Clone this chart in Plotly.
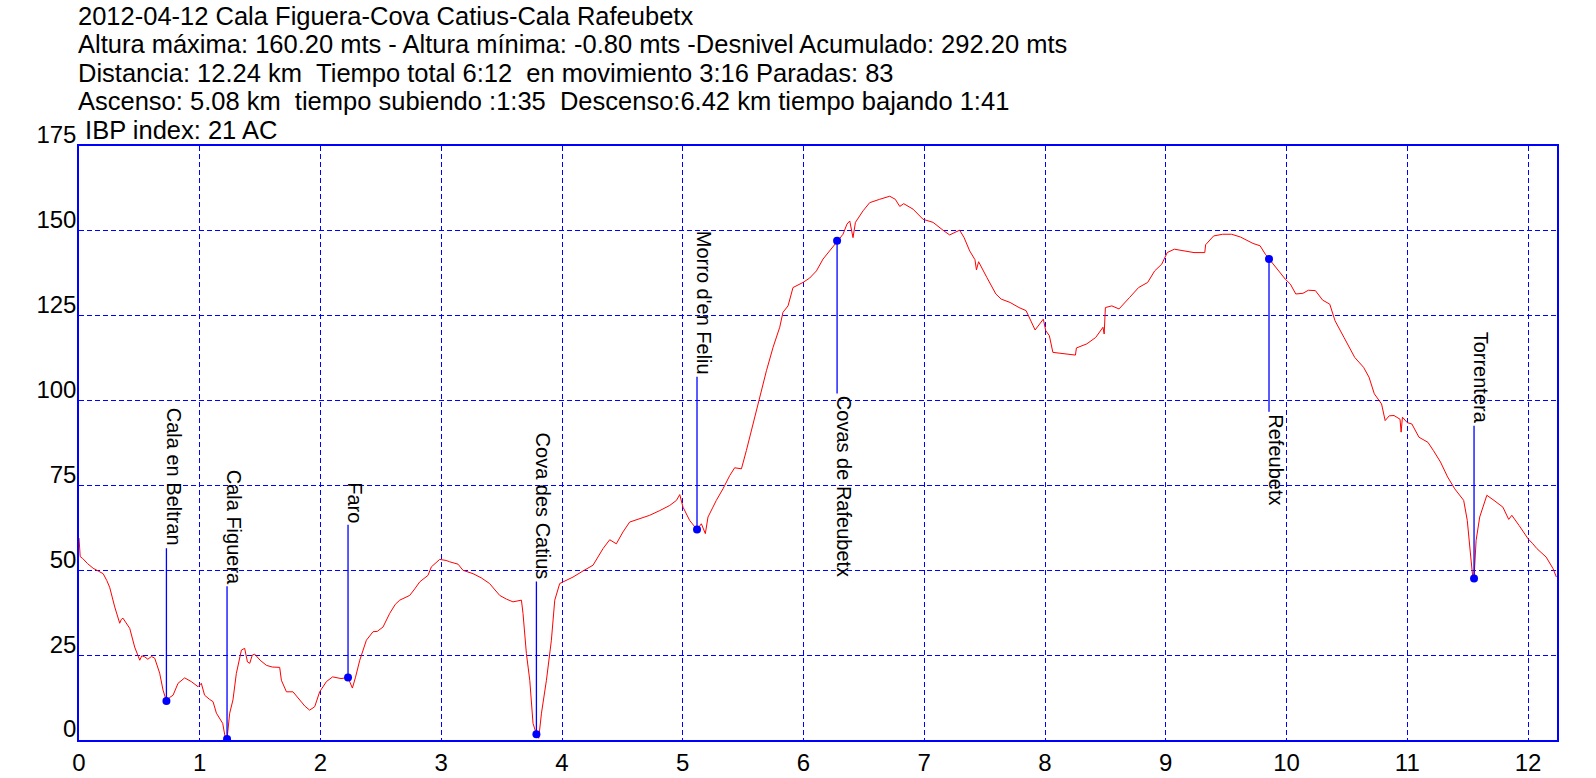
import plotly.graph_objects as go

# ---------------- data ----------------
title_lines = [
    "2012-04-12 Cala Figuera-Cova Catius-Cala Rafeubetx",
    "Altura máxima: 160.20 mts - Altura mínima: -0.80 mts -Desnivel Acumulado: 292.20 mts",
    "Distancia: 12.24 km  Tiempo total 6:12  en movimiento 3:16 Paradas: 83",
    "Ascenso: 5.08 km  tiempo subiendo :1:35  Descenso:6.42 km tiempo bajando 1:41",
    " IBP index: 21 AC",
]

dist_km = [
    0.00, 0.01, 0.03, 0.07, 0.117, 0.16, 0.20, 0.23, 0.254, 0.296, 0.337, 0.35, 0.364, 0.39, 0.42,
    0.461, 0.49, 0.503, 0.52, 0.544, 0.57, 0.60, 0.627, 0.668, 0.696, 0.724, 0.75, 0.779, 0.82,
    0.875, 0.93, 0.986, 1.013, 1.04, 1.08, 1.11, 1.138, 1.19, 1.207, 1.215, 1.226, 1.248, 1.275,
    1.303, 1.345, 1.372, 1.395, 1.414, 1.435, 1.455, 1.50, 1.552, 1.60, 1.662, 1.676, 1.718,
    1.772, 1.828, 1.87, 1.91, 1.952, 1.993, 2.049, 2.10, 2.17, 2.228, 2.264, 2.29, 2.325, 2.38,
    2.435, 2.47, 2.518, 2.573, 2.62, 2.656, 2.70, 2.739, 2.78, 2.822, 2.89, 2.918, 2.987, 3.04,
    3.07, 3.139, 3.18, 3.263, 3.33, 3.40, 3.484, 3.54, 3.594, 3.64, 3.664, 3.677, 3.705, 3.733,
    3.76, 3.788, 3.807, 3.83, 3.871, 3.912, 3.94, 3.981, 4.036, 4.091, 4.174, 4.257, 4.34, 4.395,
    4.45, 4.505, 4.56, 4.644, 4.726, 4.81, 4.892, 4.948, 4.975, 5.002, 5.057, 5.118, 5.154,
    5.187, 5.209, 5.25, 5.278, 5.333, 5.389, 5.43, 5.486, 5.527, 5.582, 5.637, 5.693, 5.748,
    5.803, 5.83, 5.872, 5.913, 5.996, 6.051, 6.107, 6.162, 6.217, 6.278, 6.327, 6.36, 6.383,
    6.41, 6.43, 6.493, 6.548, 6.631, 6.714, 6.76, 6.797, 6.83, 6.907, 6.99, 7.073, 7.155, 7.21,
    7.293, 7.33, 7.376, 7.42, 7.432, 7.45, 7.518, 7.593, 7.637, 7.711, 7.785, 7.843, 7.918,
    7.986, 8.006, 8.036, 8.065, 8.169, 8.252, 8.26, 8.346, 8.42, 8.48, 8.49, 8.50, 8.553, 8.613,
    8.701, 8.775, 8.85, 8.908, 8.967, 9.012, 9.071, 9.16, 9.234, 9.323, 9.33, 9.396, 9.471,
    9.545, 9.618, 9.722, 9.781, 9.825, 9.855, 9.914, 9.989, 10.032, 10.077, 10.136, 10.181,
    10.239, 10.299, 10.358, 10.402, 10.476, 10.565, 10.638, 10.683, 10.727, 10.787, 10.817,
    10.85, 10.89, 10.94, 10.949, 10.96, 11.0, 11.038, 11.097, 11.171, 11.216, 11.275, 11.334,
    11.393, 11.467, 11.497, 11.526, 11.545, 11.553, 11.57, 11.60, 11.659, 11.718, 11.792, 11.84,
    11.866, 11.926, 12.0, 12.04, 12.073, 12.15, 12.207, 12.235,
]
altitude_m = [
    59.5, 54.0, 53.5, 52.0, 50.6, 49.8, 49.0, 47.0, 45.0, 39.2, 34.4, 35.5, 35.9, 34.5, 32.9,
    27.4, 24.5, 23.5, 24.8, 24.5, 23.8, 24.6, 24.1, 19.7, 14.7, 11.5, 12.5, 13.2, 16.7,
    18.3, 17.2, 15.7, 16.7, 13.2, 12.0, 11.3, 7.9, 4.9, 1.5, -0.8, 0.3, 7.9, 11.8,
    19.6, 26.5, 27.0, 23.0, 22.6, 25.0, 25.3, 23.5, 22.0, 21.5, 21.4, 17.6, 14.2,
    14.2, 11.8, 10.0, 8.8, 9.8, 14.2, 17.2, 18.6, 18.1, 18.4, 15.3, 18.5, 23.5, 29.4,
    31.9, 32.0, 33.3, 37.3, 40.0, 41.2, 42.0, 42.6, 44.5, 46.6, 48.5, 51.0, 53.2, 52.9,
    52.5, 51.8, 50.0, 49.0, 47.8, 46.1, 42.6, 41.5, 40.7, 41.0, 41.2, 37.3, 25.5, 17.6,
    4.9, 1.7, 0.5, 7.9, 17.6, 29.4, 41.2, 46.1, 47.0, 48.0, 49.8, 51.5, 56.4, 59.0,
    57.8, 61.3, 64.2, 65.2, 66.2, 67.6, 69.1, 70.6, 72.3, 68.6, 64.7, 62.0, 63.7,
    60.8, 65.7, 68.6, 70.6, 74.0, 77.9, 80.2, 79.9, 85.3, 93.1, 101.0, 108.8, 115.7,
    121.6, 126.0, 127.9, 133.3, 134.8, 136.1, 138.2, 141.7, 144.1, 147.1, 149.0, 152.0, 152.9,
    148.0, 152.5, 155.9, 158.3, 159.3, 160.2, 159.3, 157.2, 158.0, 156.4, 153.4, 152.5, 150.2, 148.8,
    150.2, 148.0, 144.1, 141.5, 138.5, 140.9, 136.3, 131.4, 129.9, 128.9, 127.4, 126.5, 120.8,
    124.0, 120.6, 119.1, 114.2, 113.7, 113.4, 115.5, 116.7, 118.6, 121.6, 119.6, 127.4, 127.9, 127.0,
    130.4, 133.3, 134.8, 138.2, 140.2, 143.6, 144.6, 144.1, 143.6, 143.6, 145.9, 148.5, 149.0,
    149.0, 148.2, 146.3, 145.6, 143.1, 141.7, 139.2, 135.8, 134.3, 131.4, 131.6, 132.5,
    132.4, 129.6, 128.4, 123.5, 118.6, 112.7, 109.8, 106.9, 102.0, 99.0, 94.1,
    95.5, 95.6, 94.5, 90.7, 95.1, 93.5, 93.1, 89.2, 87.7, 85.3, 81.9, 77.5,
    74.0, 70.6, 64.7, 53.9, 47.0, 47.6, 58.8, 65.7, 72.1, 70.6, 68.6, 65.0,
    66.2, 63.2, 59.3, 57.8, 56.4, 53.9, 50.5, 48.0,
]

wp_names = ["Cala en Beltran", "Cala Figuera", "Faro", "Cova des Catius",
            "Morro d'en Feliu", "Covas de Rafeubetx", "Refeubetx", "Torrentera"]
wp_km = [0.724, 1.226, 2.228, 3.788, 5.118, 6.278, 9.855, 11.553]
wp_alt = [11.5, 0.3, 18.4, 1.7, 62.0, 147.1, 141.7, 47.6]

x_ticks = list(range(0, 13))
y_ticks = [0, 25, 50, 75, 100, 125, 150, 175]

# ---------------- layout constants ----------------
W, H = 1596, 778
ML, MR, MT, MB = 79, 39, 146, 38
STEM = 45  # stem length in axis units
FONT = "Liberation Sans, Arial, sans-serif"
BLUE = "#0000FF"

fig = go.Figure()

fig.add_trace(go.Scatter(x=dist_km, y=altitude_m, mode="lines",
                         line=dict(color="#FF0000", width=1), hoverinfo="skip"))

# stems
sx, sy = [], []
ends = []
for k, a in zip(wp_km, wp_alt):
    d = -1 if a > 125 else 1
    e = a + d * STEM
    ends.append((e, d))
    sx += [k, k, None]
    sy += [a, e, None]
fig.add_trace(go.Scatter(x=sx, y=sy, mode="lines", line=dict(color=BLUE, width=1.3),
                         hoverinfo="skip"))
fig.add_trace(go.Scatter(x=wp_km, y=wp_alt, mode="markers",
                         marker=dict(color=BLUE, size=8), hoverinfo="skip"))

for name, k, (e, d) in zip(wp_names, wp_km, ends):
    fig.add_annotation(x=k, y=e, xref="x", yref="y", text=name, showarrow=False,
                       textangle=90, xanchor="center",
                       yanchor="bottom" if d > 0 else "top",
                       xshift=7, font=dict(family=FONT, size=20, color="black"))

plot_h = H - MT - MB
plot_w = W - ML - MR
centers = [15.8, 44.0, 72.5, 101.0, 130.5]
for txt, cy in zip(title_lines, centers):
    txt = txt.replace("  ", "\u00a0\u00a0")
    if txt.startswith(" "):
        txt = "\u00a0" + txt[1:]
    fig.add_annotation(x=(76 - ML) / plot_w, y=(H - MB - cy) / plot_h,
                       xref="paper", yref="paper", text=txt, showarrow=False,
                       xanchor="left", yanchor="middle",
                       font=dict(family=FONT, size=25.5, color="black"))

axis_common = dict(showgrid=True, gridcolor=BLUE, gridwidth=1, griddash="5px,3px",
                   showline=True, linecolor=BLUE, linewidth=1.5, mirror=True,
                   zeroline=False, ticks="", automargin=False,
                   tickfont=dict(family=FONT, size=24, color="black"))

fig.update_xaxes(range=[0, 12.24], tickvals=x_ticks, ticktext=[str(v) for v in x_ticks],
                 **axis_common)
fig.update_yaxes(range=[0, 175], tickvals=y_ticks, ticktext=[str(v) for v in y_ticks],
                 ticklabelshift=-11, ticklabelstandoff=-4, **axis_common)

fig.update_layout(width=W, height=H, margin=dict(l=ML, r=MR, t=MT, b=MB, autoexpand=False),
                  paper_bgcolor="white", plot_bgcolor="white", showlegend=False,
                  font=dict(family=FONT))

fig.write_html("out.html", config={"displayModeBar": False},
               post_script="document.body.style.margin='0px';document.body.style.padding='0px';")
